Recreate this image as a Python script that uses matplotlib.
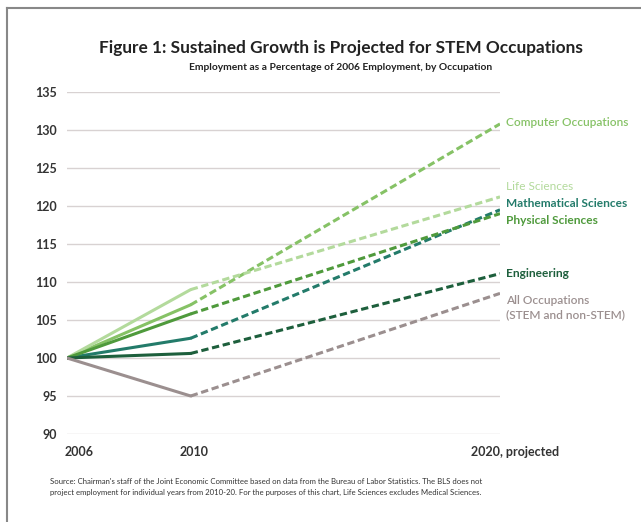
import matplotlib
matplotlib.use("Agg")
import matplotlib.pyplot as plt
import matplotlib.transforms as mtransforms
from matplotlib.lines import Line2D

plt.rcParams['font.family'] = ['Lato', 'DejaVu Sans']

years = [2006, 2010, 2020]
tick_labels = ["2006", "2010", "2020, projected"]
series_names = ["Computer Occupations", "Life Sciences", "Mathematical Sciences",
                "Physical Sciences", "Engineering", "All Occupations\n(STEM and non-STEM)"]
computer = [100, 107.0, 130.8]
life_sciences = [100, 109.0, 121.2]
math_sciences = [100, 102.6, 119.5]
physical_sciences = [100, 105.8, 119.0]
engineering = [100, 100.6, 111.1]
all_occupations = [100, 95.0, 108.5]
series_values = [computer, life_sciences, math_sciences, physical_sciences, engineering, all_occupations]
colors = ["#86c266", "#b3da9c", "#237b6a", "#4f9a3c", "#1d5f3c", "#9b8f8f"]
label_y = [131.0, 122.6, 120.3, 118.1, 111.1, 106.6]
label_weight = ["semibold", "normal", "bold", "bold", "bold", "semibold"]

fig = plt.figure(figsize=(6.41, 5.22), dpi=100)
fig.patch.set_facecolor("white")
ax = fig.add_axes([67/641, 1-434/522, 433/641, 342/522])

for vals, c in zip(series_values, colors):
    ax.plot(years[:2], vals[:2], color=c, lw=2.2, solid_capstyle='round', solid_joinstyle='round')
    ax.plot(years[1:], vals[1:], color=c, lw=2.2, linestyle=(0, (2.4, 1.2)))

for name, ly, c, w in zip(series_names, label_y, colors, label_weight):
    ax.annotate(name, xy=(years[-1], ly), xytext=(4, 0), textcoords='offset points',
                va='center', ha='left', color=c, fontsize=8.6, fontweight=w,
                linespacing=1.4, annotation_clip=False)

ax.set_xlim(2006, 2020)
ax.set_ylim(90, 135)
ax.set_yticks(range(90, 136, 5))
ax.set_xticks(years)
ax.set_xticklabels(tick_labels)
ax.grid(axis='y', color='#d8d2d2', lw=1)
ax.set_axisbelow(True)
for s in ax.spines.values():
    s.set_visible(False)
ax.tick_params(length=0, labelsize=9, colors='#333333')
ax.tick_params(axis='x', pad=9)
ax.tick_params(axis='y', pad=7)
for lab in ax.get_xticklabels() + ax.get_yticklabels():
    lab.set_fontweight('bold')
xl = ax.get_xticklabels()
xl[0].set_transform(xl[0].get_transform() + mtransforms.ScaledTranslation(12/100, 0, fig.dpi_scale_trans))
xl[1].set_transform(xl[1].get_transform() + mtransforms.ScaledTranslation(3/100, 0, fig.dpi_scale_trans))
xl[2].set_transform(xl[2].get_transform() + mtransforms.ScaledTranslation(15/100, 0, fig.dpi_scale_trans))

fig.text(341/641, 1-48/522, "Figure 1: Sustained Growth is Projected for STEM Occupations",
         ha='center', va='center', fontsize=12.4, fontweight='bold', color='#222222')
fig.text(341/641, 1-68/522, "Employment as a Percentage of 2006 Employment, by Occupation",
         ha='center', va='center', fontsize=7.4, fontweight='bold', color='#222222')
fig.text(50/641, 1-487/522,
         "Source: Chairman's staff of the Joint Economic Committee based on data from the Bureau of Labor Statistics. The BLS does not\n"
         "project employment for individual years from 2010-20. For the purposes of this chart, Life Sciences excludes Medical Sciences.",
         ha='left', va='center', fontsize=5.6, color='#333333', linespacing=1.6)

fig.add_artist(Line2D([7/641, 7/641], [0, 1-8/522], transform=fig.transFigure, color='#888888', lw=1.5))
fig.add_artist(Line2D([7/641, 1], [1-8/522, 1-8/522], transform=fig.transFigure, color='#888888', lw=1.5))

fig.savefig("out.png", dpi=100, facecolor="white")
